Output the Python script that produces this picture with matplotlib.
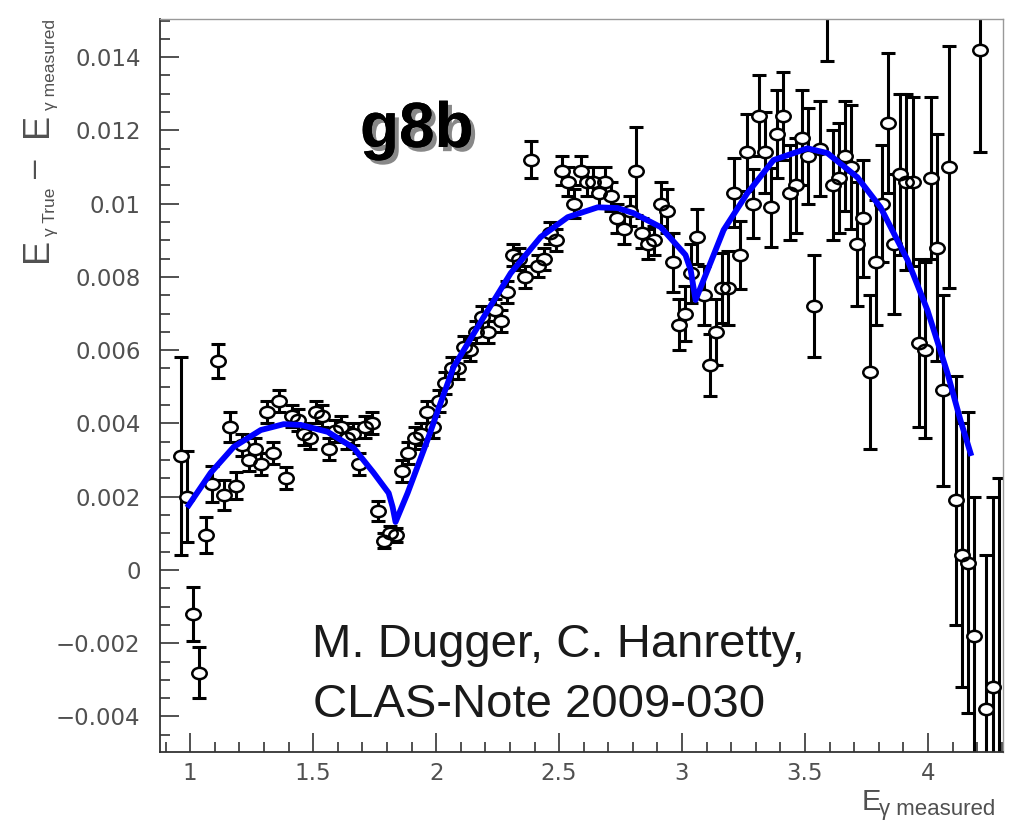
import matplotlib
matplotlib.use("Agg")
import matplotlib.pyplot as plt
import matplotlib.patheffects as pe
from matplotlib.path import Path
from matplotlib.ticker import MultipleLocator, FuncFormatter

# photon energy bins (GeV), 25 MeV wide
e_meas = [
    0.9625, 0.9875, 1.0125, 1.0375, 1.0625, 1.0875, 1.1125, 1.1375, 1.1625, 1.1875,
    1.2125, 1.2375, 1.2625, 1.2875, 1.3125, 1.3375, 1.3625, 1.3875, 1.4125, 1.4375,
    1.4625, 1.4875, 1.5125, 1.5375, 1.5625, 1.5875, 1.6125, 1.6375, 1.6625, 1.6875,
    1.7125, 1.7375, 1.7625, 1.7875, 1.8125, 1.8375, 1.8625, 1.8875, 1.9125, 1.9375,
    1.9625, 1.9875, 2.0125, 2.0375, 2.0625, 2.0875, 2.1125, 2.1375, 2.1625, 2.1875,
    2.2125, 2.2375, 2.2625, 2.2875, 2.3125, 2.3375, 2.3625, 2.3875, 2.4125, 2.4375,
    2.4625, 2.4875, 2.5125, 2.5375, 2.5625, 2.5875, 2.6125, 2.6375, 2.6625, 2.6875,
    2.7125, 2.7375, 2.7625, 2.7875, 2.8125, 2.8375, 2.8625, 2.8875, 2.9125, 2.9375,
    2.9625, 2.9875, 3.0125, 3.0375, 3.0625, 3.0875, 3.1125, 3.1375, 3.1625, 3.1875,
    3.2125, 3.2375, 3.2625, 3.2875, 3.3125, 3.3375, 3.3625, 3.3875, 3.4125, 3.4375,
    3.4625, 3.4875, 3.5125, 3.5375, 3.5625, 3.5875, 3.6125, 3.6375, 3.6625, 3.6875,
    3.7125, 3.7375, 3.7625, 3.7875, 3.8125, 3.8375, 3.8625, 3.8875, 3.9125, 3.9375,
    3.9625, 3.9875, 4.0125, 4.0375, 4.0625, 4.0875, 4.1125, 4.1375, 4.1625, 4.1875,
    4.2125, 4.2375, 4.2625, 4.2875,
]

# E_true - E_measured (GeV)
delta = [
    0.0031, 0.0020, -0.0012, -0.0028, 0.00095, 0.00235, 0.0057, 0.00205, 0.0039, 0.0023,
    0.0034, 0.0030, 0.0033, 0.0029, 0.0043, 0.0032, 0.0046, 0.0025, 0.0042, 0.0041,
    0.0037, 0.0036, 0.0043, 0.0042, 0.0033, 0.0038, 0.0039, 0.0036, 0.0037, 0.0029,
    0.0039, 0.0040, 0.0016, 0.0008, 0.0010, 0.00095, 0.0027, 0.0032, 0.0036, 0.0037,
    0.0043, 0.0039, 0.0046, 0.0051, 0.0055, 0.0055, 0.0061, 0.0060, 0.0065, 0.0069,
    0.0065, 0.0071, 0.0068, 0.0076, 0.0086, 0.0085, 0.0080, 0.0112, 0.0083, 0.0085,
    0.0092, 0.0090, 0.0109, 0.0106, 0.0100, 0.0109, 0.0106, 0.0106, 0.0103, 0.0106,
    0.0102, 0.0096, 0.0093, 0.0098, 0.0109, 0.0092, 0.0089, 0.0090, 0.0100, 0.0098,
    0.0084, 0.0067, 0.0070, 0.0081, 0.0091, 0.0075, 0.0056, 0.0065, 0.0077, 0.0077,
    0.0103, 0.0086, 0.0114, 0.0100, 0.0124, 0.0114, 0.0099, 0.0119, 0.0124, 0.0103,
    0.0105, 0.0118, 0.0113, 0.0072, 0.0115, 0.0160, 0.0105, 0.0107, 0.0113, 0.0110,
    0.0089, 0.0096, 0.0054, 0.0084, 0.0100, 0.0122, 0.0089, 0.0108, 0.0106, 0.0106,
    0.0062, 0.0060, 0.0107, 0.0088, 0.0049, 0.0110, 0.0019, 0.0004, 0.0002, -0.0018,
    0.0142, -0.0038, -0.0032, -0.0056,
]

delta_err = [
    0.0027, 0.00125, 0.00074, 0.0007, 0.0005, 0.0005, 0.00047, 0.0004, 0.0004, 0.00037,
    0.0003, 0.0003, 0.0003, 0.0003, 0.0003, 0.0003, 0.0003, 0.0003, 0.0003, 0.0003,
    0.0003, 0.0003, 0.0003, 0.0003, 0.0003, 0.0003, 0.0003, 0.0003, 0.0003, 0.0003,
    0.0003, 0.0003, 0.00027, 0.0002, 0.0002, 0.0002, 0.0003, 0.0003, 0.0003, 0.0003,
    0.0003, 0.0003, 0.0003, 0.0003, 0.0003, 0.0003, 0.0003, 0.0003, 0.0003, 0.0003,
    0.0003, 0.0003, 0.0003, 0.0003, 0.0003, 0.0003, 0.0003, 0.0005, 0.0003, 0.0003,
    0.0003, 0.0003, 0.0004, 0.0004, 0.0004, 0.0004, 0.0004, 0.0004, 0.0004, 0.0004,
    0.0004, 0.0004, 0.0004, 0.0004, 0.0012, 0.0004, 0.0004, 0.0004, 0.0006, 0.0006,
    0.0008, 0.0007, 0.00075, 0.0008, 0.00075, 0.0008, 0.00085, 0.0009, 0.00095, 0.0010,
    0.00095, 0.00093, 0.00105, 0.00095, 0.0011, 0.0011, 0.00107, 0.0012, 0.0012, 0.0013,
    0.0013, 0.0013, 0.0013, 0.0014, 0.0013, 0.0021, 0.0015, 0.0015, 0.0015, 0.0017,
    0.0017, 0.0016, 0.0021, 0.0017, 0.0016, 0.0019, 0.0019, 0.0022, 0.0024, 0.0023,
    0.0023, 0.0024, 0.0022, 0.0031, 0.0026, 0.0033, 0.0034, 0.0036, 0.0041, 0.0038,
    0.0028, 0.0042, 0.0052, 0.0081,
]

# fitted correction curve
fit_x = [
    0.994, 1.083, 1.177, 1.287, 1.380, 1.449, 1.559, 1.665, 1.746, 1.807,
    1.823, 1.835, 1.884, 1.965, 2.018, 2.071, 2.193, 2.303, 2.425, 2.535,
    2.657, 2.738, 2.803, 2.913, 3.014, 3.035, 3.055, 3.104, 3.169, 3.266,
    3.372, 3.510, 3.591, 3.713, 3.807, 3.917, 3.998, 4.079, 4.132, 4.173,
]
fit_y = [
    0.00177, 0.00265, 0.00336, 0.00382, 0.00398, 0.00396, 0.00377, 0.00333, 0.00265, 0.00210,
    0.00172, 0.00131, 0.00210, 0.00355, 0.00456, 0.00554, 0.00690, 0.00810, 0.00909, 0.00963,
    0.00990, 0.00988, 0.00974, 0.00936, 0.00860, 0.00819, 0.00737, 0.00819, 0.00928, 0.01029,
    0.01119, 0.01151, 0.01138, 0.01072, 0.00990, 0.00846, 0.00709, 0.00538, 0.00409, 0.00319,
]

plt.rcParams['font.family'] = ['Liberation Sans', 'DejaVu Sans']

GRAY = '#505050'
W, H = 1017, 835

fig = plt.figure(figsize=(W / 100, H / 100), dpi=100)
ax = fig.add_axes([0.1573, 0.0994, 0.8289, 0.8778])


def px(x, y):
    # pixel position (from top-left) -> figure fraction
    return x / W, 1 - y / H


# open, slightly flattened circles
circ = Path.unit_circle()
oval = Path(circ.vertices * [1.0, 0.78], circ.codes)

ax.errorbar(e_meas, delta, yerr=delta_err, fmt='none', ecolor='k',
            elinewidth=2.2, capsize=5.2, capthick=2.2, zorder=2)
ax.plot(e_meas, delta, ls='none', marker=oval, ms=10.4, mfc='white', mec='none', zorder=3)
ax.plot(e_meas, delta, ls='none', marker=oval, ms=10.4, mfc='none', mec='k', mew=1.8, zorder=4)
ax.plot(fit_x, fit_y, color='#0000ff', lw=4.2, zorder=5, solid_joinstyle='round')

ax.set_xlim(0.877, 4.305)
ax.set_ylim(-0.00497, 0.01504)

ax.xaxis.set_major_locator(MultipleLocator(0.5))
ax.xaxis.set_minor_locator(MultipleLocator(0.1))
ax.yaxis.set_major_locator(MultipleLocator(0.002))
ax.yaxis.set_minor_locator(MultipleLocator(0.0005))


def root_fmt(v, pos):
    v = round(v, 4)
    if v == 0:
        return '0'
    return f'{v:g}'.replace('-', '\u2212')


ax.xaxis.set_major_formatter(FuncFormatter(root_fmt))
ax.yaxis.set_major_formatter(FuncFormatter(root_fmt))
ax.tick_params(which='both', direction='in', top=False, right=False, color='#333333', width=1.2)
ax.tick_params(which='major', length=14, labelsize=16.5, labelcolor=GRAY)
ax.tick_params(which='minor', length=7)
ax.tick_params(axis='y', which='major', pad=14)
ax.tick_params(axis='x', which='major', pad=7)
for lab in ax.get_xticklabels() + ax.get_yticklabels():
    lab.set_family('DejaVu Sans')

for side in ('left', 'bottom'):
    ax.spines[side].set_color('#333333')
    ax.spines[side].set_linewidth(1.3)
for side in ('top', 'right'):
    ax.spines[side].set_color('#999999')
    ax.spines[side].set_linewidth(1.0)

# axis titles, built from pieces so the subscripts stay small
lab_kw = dict(color=GRAY, rotation_mode='anchor', ha='left', va='baseline')
fig.text(*px(47, 262), 'E', rotation=90, fontsize=26, **lab_kw)
fig.text(*px(55, 236), '\u03b3 True', rotation=90, fontsize=12.5, **lab_kw)
fig.text(*px(44, 178), '\u2013', rotation=90, fontsize=24, **lab_kw)
fig.text(*px(47, 137), 'E', rotation=90, fontsize=26, **lab_kw)
fig.text(*px(55, 110), '\u03b3 measured', rotation=90, fontsize=12.5, **lab_kw)

fig.text(*px(862, 810), 'E', fontsize=21, **lab_kw)
fig.text(*px(879, 815), '\u03b3 measured', fontsize=16, **lab_kw)

fig.text(*px(360, 147), 'g8b', fontsize=46, fontweight='bold', color='k', va='baseline',
         path_effects=[pe.withSimplePatchShadow(offset=(3, -3), shadow_rgbFace='#888888', alpha=1.0),
                       pe.Normal()])

fig.text(*px(312, 657), 'M. Dugger, C. Hanretty,', fontsize=34, color='#1a1a1a', va='baseline')
fig.text(*px(313, 717), 'CLAS-Note 2009-030', fontsize=34, color='#1a1a1a', va='baseline')

fig.savefig('out.png', dpi=100)
